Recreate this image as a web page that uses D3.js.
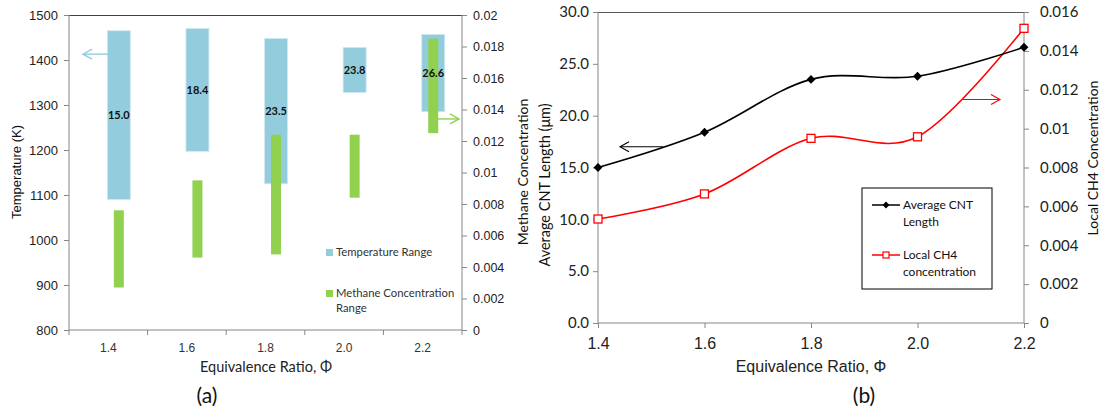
<!DOCTYPE html>
<html><head><meta charset="utf-8">
<script src="https://cdn.jsdelivr.net/npm/d3@7"></script>
<style>
body{margin:0;background:#fff;}
svg{display:block;}
</style></head>
<body>
<svg id="c" width="1103" height="412"></svg>
<script>
// ---- Data ----
const categories = ["1.4","1.6","1.8","2.0","2.2"];
const tempLow  = [1090, 1197, 1125, 1328, 1285];
const tempHigh = [1465, 1470, 1448, 1428, 1457];
const ch4Low   = [0.0027, 0.0046, 0.0048, 0.0084, 0.0125];
const ch4High  = [0.0076, 0.0095, 0.0124, 0.0124, 0.0185];
const cntLabels = ["15.0","18.4","23.5","23.8","26.6"];
const tempTicks = [800,900,1000,1100,1200,1300,1400,1500];
const methTicks = [0,0.002,0.004,0.006,0.008,0.01,0.012,0.014,0.016,0.018,0.02];

const phi = [1.4, 1.6, 1.8, 2.0, 2.2];
const cntLength = [15.0, 18.4, 23.5, 23.8, 26.6];
const localCH4 = [0.00535, 0.00664, 0.0095, 0.00958, 0.01516];
const lenTicks = [0,5,10,15,20,25,30];
const ch4Ticks = [0,0.002,0.004,0.006,0.008,0.01,0.012,0.014,0.016];
const phiTicks = [1.4,1.6,1.8,2.0,2.2];

const svg = d3.select("#c");
const CAL = "Lato, 'Open Sans', sans-serif";
const ARI = "'Liberation Sans', Arial, sans-serif";
const AXC = "#868686";
const BLUE = "#93CDDD", GREEN = "#92D050", RED = "#FF0000";

function arrow(g, x1, y, x2, color, w){
  const dir = x2 < x1 ? 1 : -1;
  g.append("line").attr("x1",x1).attr("y1",y).attr("x2",x2).attr("y2",y)
    .attr("stroke",color).attr("stroke-width",w||1.3);
  g.append("path").attr("d",`M${x2+dir*9},${y-5}L${x2},${y}L${x2+dir*9},${y+5}`)
    .attr("fill","none").attr("stroke",color).attr("stroke-width",w||1.3);
}

// ================= Chart (a) =================
(function(){
  const L=69, R=462, T=15, B=330;
  const x = d3.scaleBand().domain(categories).range([L,R]).padding(0);
  const yT = d3.scaleLinear().domain([800,1500]).range([B,T]);
  const yM = d3.scaleLinear().domain([0,0.02]).range([B,T]);
  const g = svg.append("g");
  const cx = c => x(c) + x.bandwidth()*0.634;

  g.append("line").attr("x1",L).attr("x2",R).attr("y1",T+0.5).attr("y2",T+0.5).attr("stroke","#404040").attr("stroke-width",1.2);

  const la = g.append("g").attr("transform",`translate(${L},0)`)
    .call(d3.axisLeft(yT).tickValues(tempTicks).tickSize(5).tickPadding(6).tickFormat(d3.format("d")));
  la.select(".domain").attr("stroke",AXC).attr("d",`M0,${T}V${B}`);
  la.selectAll(".tick line").attr("stroke",AXC);
  la.selectAll("text").attr("font-family",ARI).attr("font-size",13).attr("fill","#222");

  const ra = g.append("g").attr("transform",`translate(${R},0)`)
    .call(d3.axisRight(yM).tickValues(methTicks).tickSize(5).tickPadding(6).tickFormat(d => d===0?"0":String(+d.toFixed(3))));
  ra.select(".domain").attr("stroke",AXC).attr("d",`M0,${T}V${B}`);
  ra.selectAll(".tick line").attr("stroke",AXC);
  ra.selectAll("text").attr("font-family",ARI).attr("font-size",12.5).attr("fill","#222");

  const ba = g.append("g").attr("transform",`translate(0,${B})`)
    .call(d3.axisBottom(x).tickSize(0).tickPadding(13));
  ba.select(".domain").attr("stroke",AXC).attr("d",`M${L},0H${R}`);
  ba.selectAll("text").attr("font-family",ARI).attr("font-size",12).attr("fill","#333");
  const bounds = categories.map(c=>x(c)).concat([R]);
  g.selectAll(".btick").data(bounds).enter().append("line")
    .attr("x1",d=>d).attr("x2",d=>d).attr("y1",B).attr("y2",B+5).attr("stroke",AXC);

  g.selectAll(".tb").data(categories).enter().append("rect")
    .attr("x",(c)=>cx(c)-11.5).attr("width",23)
    .attr("y",(c,i)=>yT(tempHigh[i])).attr("height",(c,i)=>yT(tempLow[i])-yT(tempHigh[i]))
    .attr("fill",BLUE).attr("stroke","#cfe9f0").attr("stroke-width",0.8);
  g.selectAll(".mb").data(categories).enter().append("rect")
    .attr("x",(c)=>cx(c)-5).attr("width",10)
    .attr("y",(c,i)=>yM(ch4High[i])).attr("height",(c,i)=>yM(ch4Low[i])-yM(ch4High[i]))
    .attr("fill",GREEN);
  g.selectAll(".lb").data(categories).enter().append("text")
    .attr("x",c=>cx(c)).attr("y",(c,i)=>(yT(tempHigh[i])+yT(tempLow[i]))/2+4)
    .attr("text-anchor","middle").attr("font-family",CAL).attr("font-weight","bold")
    .attr("font-size",11).attr("fill","#111").text((c,i)=>cntLabels[i]);

  arrow(g, cx(categories[0])-11, yT(1413), 83, BLUE, 1.4);
  arrow(g, cx(categories[4])+4, yM(0.0134), 459, GREEN, 1.4);

  const lg = g.append("g").attr("font-family",CAL).attr("font-size",11.3).attr("fill","#333");
  lg.append("rect").attr("x",326).attr("y",249).attr("width",7).attr("height",7).attr("fill",BLUE);
  lg.append("text").attr("x",336).attr("y",256).text("Temperature Range");
  lg.append("rect").attr("x",326).attr("y",290).attr("width",7).attr("height",7).attr("fill",GREEN);
  lg.append("text").attr("x",336).attr("y",297).text("Methane Concentration");
  lg.append("text").attr("x",336).attr("y",312).text("Range");

  g.append("text").attr("transform","translate(21,172) rotate(-90)").attr("text-anchor","middle")
    .attr("font-family",ARI).attr("font-size",13).attr("fill","#111").text("Temperature (K)");
  g.append("text").attr("transform","translate(528,172) rotate(-90)").attr("text-anchor","middle")
    .attr("font-family",CAL).attr("font-size",14).attr("fill","#111").text("Methane Concentration");
  g.append("text").attr("x",266).attr("y",372).attr("text-anchor","middle")
    .attr("font-family",CAL).attr("font-size",14.5).attr("fill","#222").text("Equivalence Ratio, Φ");
  g.append("text").attr("x",207).attr("y",403).attr("text-anchor","middle")
    .attr("font-family",CAL).attr("font-size",21).attr("fill","#111").text("(a)");
})();

// ================= Chart (b) =================
(function(){
  const L=598, R=1024, T=12, B=323;
  const x = d3.scaleLinear().domain([1.4,2.2]).range([L,R]);
  const yL = d3.scaleLinear().domain([0,30]).range([B,T]);
  const yR = d3.scaleLinear().domain([0,0.016]).range([B,T]);
  const g = svg.append("g");

  g.append("line").attr("x1",L).attr("x2",R).attr("y1",T+0.5).attr("y2",T+0.5).attr("stroke","#595959").attr("stroke-width",1.2);

  const la = g.append("g").attr("transform",`translate(${L},0)`)
    .call(d3.axisLeft(yL).tickValues(lenTicks).tickSize(5).tickPadding(4).tickFormat(d3.format(".1f")));
  la.select(".domain").attr("stroke",AXC).attr("d",`M0,${T}V${B}`);
  la.selectAll(".tick line").attr("stroke",AXC);
  la.selectAll("text").attr("font-family",CAL).attr("font-size",15).attr("fill","#222");

  const ra = g.append("g").attr("transform",`translate(${R},0)`)
    .call(d3.axisRight(yR).tickValues(ch4Ticks).tickSize(5).tickPadding(11).tickFormat(d => d===0?"0":String(+d.toFixed(3))));
  ra.select(".domain").attr("stroke",AXC).attr("d",`M0,${T}V${B}`);
  ra.selectAll(".tick line").attr("stroke",AXC);
  ra.selectAll("text").attr("font-family",CAL).attr("font-size",15).attr("fill","#222");

  const ba = g.append("g").attr("transform",`translate(0,${B})`)
    .call(d3.axisBottom(x).tickValues(phiTicks).tickSize(5).tickPadding(10).tickFormat(d3.format(".1f")));
  ba.select(".domain").attr("stroke",AXC).attr("d",`M${L},0H${R}`);
  ba.selectAll(".tick line").attr("stroke",AXC);
  ba.selectAll("text").attr("font-family",ARI).attr("font-size",16).attr("fill","#222");

  const curve = d3.curveCatmullRom.alpha(0);
  const lineL = d3.line().x((d,i)=>x(phi[i])).y(d=>yL(d)).curve(curve);
  const lineR = d3.line().x((d,i)=>x(phi[i])).y(d=>yR(d)).curve(curve);

  g.append("path").datum(localCH4).attr("d",lineR).attr("fill","none").attr("stroke",RED).attr("stroke-width",1.6);
  g.append("path").datum(cntLength).attr("d",lineL).attr("fill","none").attr("stroke","#000").attr("stroke-width",1.6);

  g.selectAll(".sq").data(localCH4).enter().append("rect")
    .attr("x",(d,i)=>x(phi[i])-4).attr("y",d=>yR(d)-4).attr("width",8).attr("height",8)
    .attr("fill","#fff").attr("stroke",RED).attr("stroke-width",1.3);
  const diamond = d3.symbol().type(d3.symbolDiamond2).size(50);
  g.selectAll(".dm").data(cntLength).enter().append("path")
    .attr("d",diamond).attr("transform",(d,i)=>`translate(${x(phi[i])},${yL(d)})`).attr("fill","#000");

  arrow(g, 663, yL(17.0), 620, "#000", 1.1);
  arrow(g, 963, yR(0.0115), 1000, RED, 1.1);

  const lg = g.append("g");
  lg.append("rect").attr("x",862).attr("y",188).attr("width",130).attr("height",101)
    .attr("fill","#fff").attr("stroke","#000").attr("stroke-width",1);
  const t = lg.append("g").attr("font-family",CAL).attr("font-size",12).attr("fill","#111");
  lg.append("line").attr("x1",872).attr("x2",900).attr("y1",205).attr("y2",205).attr("stroke","#000").attr("stroke-width",1.5);
  lg.append("path").attr("d",d3.symbol().type(d3.symbolDiamond2).size(30)).attr("transform","translate(886,205)").attr("fill","#000");
  t.append("text").attr("x",903).attr("y",209).text("Average CNT");
  t.append("text").attr("x",903).attr("y",226).text("Length");
  lg.append("line").attr("x1",872).attr("x2",900).attr("y1",255).attr("y2",255).attr("stroke",RED).attr("stroke-width",1.5);
  lg.append("rect").attr("x",883).attr("y",252).attr("width",6).attr("height",6).attr("fill","#fff").attr("stroke",RED).attr("stroke-width",1.2);
  t.append("text").attr("x",903).attr("y",259).text("Local CH4");
  t.append("text").attr("x",903).attr("y",276).text("concentration");

  g.append("text").attr("transform","translate(550,185) rotate(-90)").attr("text-anchor","middle")
    .attr("font-family",CAL).attr("font-size",14.5).attr("fill","#111").text("Average CNT Length (μm)");
  g.append("text").attr("transform","translate(1098,158) rotate(-90)").attr("text-anchor","middle")
    .attr("font-family",CAL).attr("font-size",14).attr("fill","#111").text("Local CH4 Concentration");
  g.append("text").attr("x",811).attr("y",372).attr("text-anchor","middle")
    .attr("font-family",ARI).attr("font-size",16).attr("fill","#222").text("Equivalence Ratio, Φ");
  g.append("text").attr("x",864).attr("y",403).attr("text-anchor","middle")
    .attr("font-family",CAL).attr("font-size",21).attr("fill","#111").text("(b)");
})();
</script>
</body></html>
